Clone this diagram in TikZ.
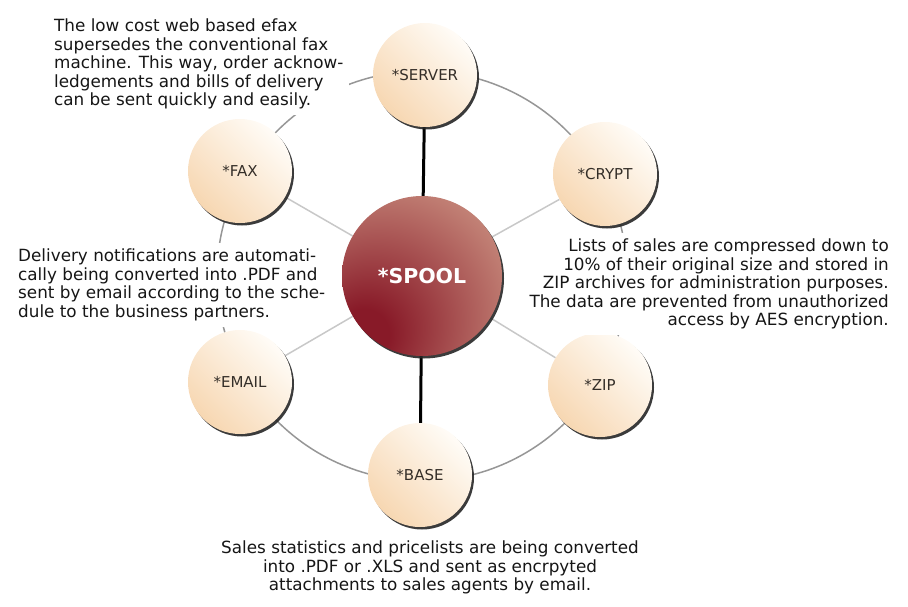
\documentclass[tikz,border=0pt]{standalone}
\usepackage{fontspec}
\setmainfont{DejaVu Sans}
\usepackage{tikz}
\usetikzlibrary{shadows, backgrounds}
\definecolor{ink}{RGB}{22,22,22}
\definecolor{label}{RGB}{52,46,40}
\definecolor{peach}{RGB}{247,215,178}
\definecolor{cream}{RGB}{255,252,247}
\definecolor{spooldark}{RGB}{136,26,40}
\definecolor{spoolmid}{RGB}{190,122,112}
\definecolor{spoollight}{RGB}{238,208,180}
\definecolor{ringgray}{RGB}{150,150,150}
\definecolor{spokegray}{RGB}{200,200,200}
\pgfdeclareradialshading{spoolball}{\pgfpoint{-20bp}{-20bp}}{color(0bp)=(spooldark); color(8bp)=(spooldark); color(38bp)=(spoolmid); color(68bp)=(spoollight); color(90bp)=(spoollight)}

\begin{document}
\begin{tikzpicture}[
  x=1pt, y=1pt,
  sat/.style={circle, minimum size=104pt, inner sep=0pt,
              top color=cream, bottom color=peach, shading angle=-45,
              drop shadow={shadow xshift=2pt, shadow yshift=-2.5pt,
                           fill=black!85, opacity=0.9},
              font=\fontsize{15}{18}\selectfont, text=label},
  hub/.style={circle, minimum size=160pt, inner sep=0pt, shading=spoolball,
              drop shadow={shadow xshift=2pt, shadow yshift=-2.5pt,
                           fill=black!85, opacity=0.9},
              font=\fontsize{20.5}{24}\selectfont\bfseries, text=white},
  note/.style={fill=white, inner sep=6pt, text=ink,
               font=\fontsize{16.8}{18.5}\selectfont},
  ring/.style={draw=ringgray, line width=1.5pt},
  rel/.style={draw=spokegray, line width=1.5pt},
  bus/.style={draw=black, line width=3pt}]
  \useasboundingbox (0,0) rectangle (908,-607);
  \node[hub] (spool) at (422,-276) {*SPOOL};
  \node[sat] (server) at (425,-75) {*SERVER};
  \node[sat] (crypt) at (605,-174) {*CRYPT};
  \node[sat] (zip) at (600,-385) {*ZIP};
  \node[sat] (base) at (420,-475) {*BASE};
  \node[sat] (email) at (240,-382) {*EMAIL};
  \node[sat] (fax) at (240,-171) {*FAX};
  \node[note, anchor=north west, align=left] (faxnote) at (48,-13)
    {The low cost web based efax\\supersedes the conventional fax\\
     machine. This way, order acknow-\\ledgements and bills of delivery\\
     can be sent quickly and easily.};
  \node[note, anchor=north west, align=left] (emailnote) at (12,-243)
    {Delivery notifications are automati-\\cally being converted into .PDF and\\
     sent by email according to the sche-\\dule to the business partners.};
  \node[note, anchor=north east, align=right] (zipnote) at (895,-233)
    {Lists of sales are compressed down to\\10\% of their original size and stored in\\
     ZIP archives for administration purposes.\\The data are prevented from unauthorized\\
     access by AES encryption.};
  \node[note, anchor=north, align=center] (basenote) at (430,-535)
    {Sales statistics and pricelists are being converted\\
     into .PDF or .XLS and sent as encrpyted\\attachments to sales agents by email.};
  \begin{scope}[on background layer]
    \draw[ring] (spool.center) circle[radius=205];
    \draw[rel] (spool) -- (fax);
    \draw[rel] (spool) -- (crypt);
    \draw[rel] (spool) -- (email);
    \draw[rel] (spool) -- (zip);
    \draw[bus] (spool) -- (server);
    \draw[bus] (spool) -- (base);
  \end{scope}
\end{tikzpicture}
\end{document}
